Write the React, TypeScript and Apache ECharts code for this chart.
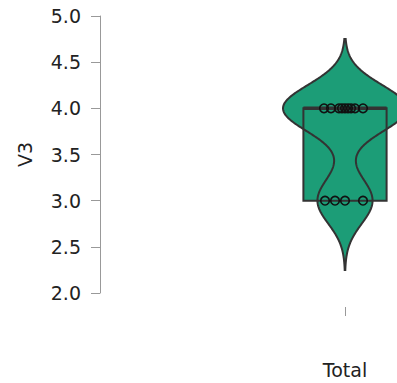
import React, { useEffect, useRef } from "react";
import * as echarts from "echarts";

// ---- data ----
const categories = ["Total"];
const v3Values = [4, 4, 4, 4, 4, 4, 4, 4, 4, 3, 3, 3, 3];
// horizontal jitter of each point, in category-band units
const jitter = [-0.202, -0.135, -0.058, -0.029, 0, 0.029, 0.058, 0.096, 0.173, -0.192, -0.096, 0, 0.173];
const yMin = 2;
const yMax = 5;
const yInterval = 0.5;
const bandwidth = 0.25; // kernel bandwidth of the violin

// ---- style ----
const FILL = "#1c9d77";
const STROKE = "#333333";
const FONT = "DejaVu Sans";

function quantile7(sorted: number[], p: number) {
  const h = (sorted.length - 1) * p;
  const lo = Math.floor(h);
  const hi = Math.ceil(h);
  return sorted[lo] + (h - lo) * (sorted[hi] - sorted[lo]);
}

function kde(x: number[], h: number, steps = 256) {
  const from = Math.min(...x) - 3 * h;
  const to = Math.max(...x) + 3 * h;
  const out: [number, number][] = [];
  for (let i = 0; i <= steps; i++) {
    const y = from + ((to - from) * i) / steps;
    let d = 0;
    for (const v of x) {
      const z = (y - v) / h;
      d += Math.exp(-0.5 * z * z);
    }
    out.push([y, d / (x.length * h * Math.sqrt(2 * Math.PI))]);
  }
  return out;
}

export default function App() {
  const ref = useRef<HTMLDivElement>(null);
  useEffect(() => {
    if (!ref.current) return;
    const chart = echarts.init(ref.current, null, { renderer: "svg" });
    const sorted = [...v3Values].sort((a, b) => a - b);
    const q1 = quantile7(sorted, 0.25);
    const med = quantile7(sorted, 0.5);
    const q3 = quantile7(sorted, 0.75);
    const dens = kde(v3Values, bandwidth);
    const maxD = Math.max(...dens.map((d) => d[1]));
    const violinHalf = 0.596;
    const boxHalf = 0.4;

    chart.setOption({
      animation: false,
      grid: { left: 293, right: 0, top: 16, bottom: 90 },
      xAxis: {
        type: "category",
        data: categories,
        offset: 14,
        axisLine: { show: false },
        axisTick: { show: true, alignWithLabel: true, length: 9, lineStyle: { color: "#999" } },
        axisLabel: { fontSize: 19, fontFamily: FONT, color: "#222", margin: 53 },
        splitLine: { show: false },
      },
      yAxis: {
        type: "value",
        min: yMin,
        max: yMax,
        interval: yInterval,
        offset: 193,
        name: "V3",
        nameLocation: "middle",
        nameGap: 66,
        nameTextStyle: { fontSize: 19, fontFamily: FONT, color: "#222" },
        axisLine: { show: true, lineStyle: { color: "#999" } },
        axisTick: { show: true, length: 9, lineStyle: { color: "#999" } },
        axisLabel: {
          fontSize: 19,
          fontFamily: FONT,
          color: "#222",
          margin: 19,
          formatter: (v: number) => v.toFixed(1),
        },
        splitLine: { show: false },
      },
      series: [
        {
          type: "custom",
          clip: false,
          data: [[0]],
          renderItem: (_params: any, api: any) => {
            const band = api.size([1, 0])[0];
            const cx = api.coord([0, med])[0];
            const left: number[][] = [];
            const right: number[][] = [];
            for (const [y, d] of dens) {
              const py = api.coord([0, y])[1];
              const w = (d / maxD) * violinHalf * band;
              left.push([cx - w, py]);
              right.push([cx + w, py]);
            }
            const outline = left.concat(right.reverse());
            const yq1 = api.coord([0, q1])[1];
            const yq3 = api.coord([0, q3])[1];
            const ymed = api.coord([0, med])[1];
            const bw = boxHalf * band;
            const children: any[] = [
              { type: "polygon", shape: { points: outline }, style: { fill: FILL, stroke: null } },
              {
                type: "rect",
                shape: { x: cx - bw, y: yq3, width: 2 * bw, height: yq1 - yq3 },
                style: { fill: FILL, stroke: null },
              },
              {
                type: "polygon",
                shape: { points: outline },
                style: { fill: "none", stroke: STROKE, lineWidth: 2 },
              },
              {
                type: "rect",
                shape: { x: cx - bw, y: yq3, width: 2 * bw, height: yq1 - yq3 },
                style: { fill: "none", stroke: STROKE, lineWidth: 2 },
              },
              {
                type: "line",
                shape: { x1: cx - bw, y1: ymed, x2: cx + bw, y2: ymed },
                style: { stroke: STROKE, lineWidth: 3.5 },
              },
            ];
            v3Values.forEach((v, i) => {
              const p = api.coord([0, v]);
              children.push({
                type: "circle",
                shape: { cx: p[0] + jitter[i] * band, cy: p[1], r: 4.3 },
                style: { fill: "none", stroke: "#111", lineWidth: 1.6 },
              });
            });
            return { type: "group", children };
          },
        },
      ],
    });
    return () => chart.dispose();
  }, []);
  return (
    <div
      ref={ref}
      style={{ position: "absolute", left: 0, top: 0, width: 397, height: 383, background: "#fff" }}
    />
  );
}
